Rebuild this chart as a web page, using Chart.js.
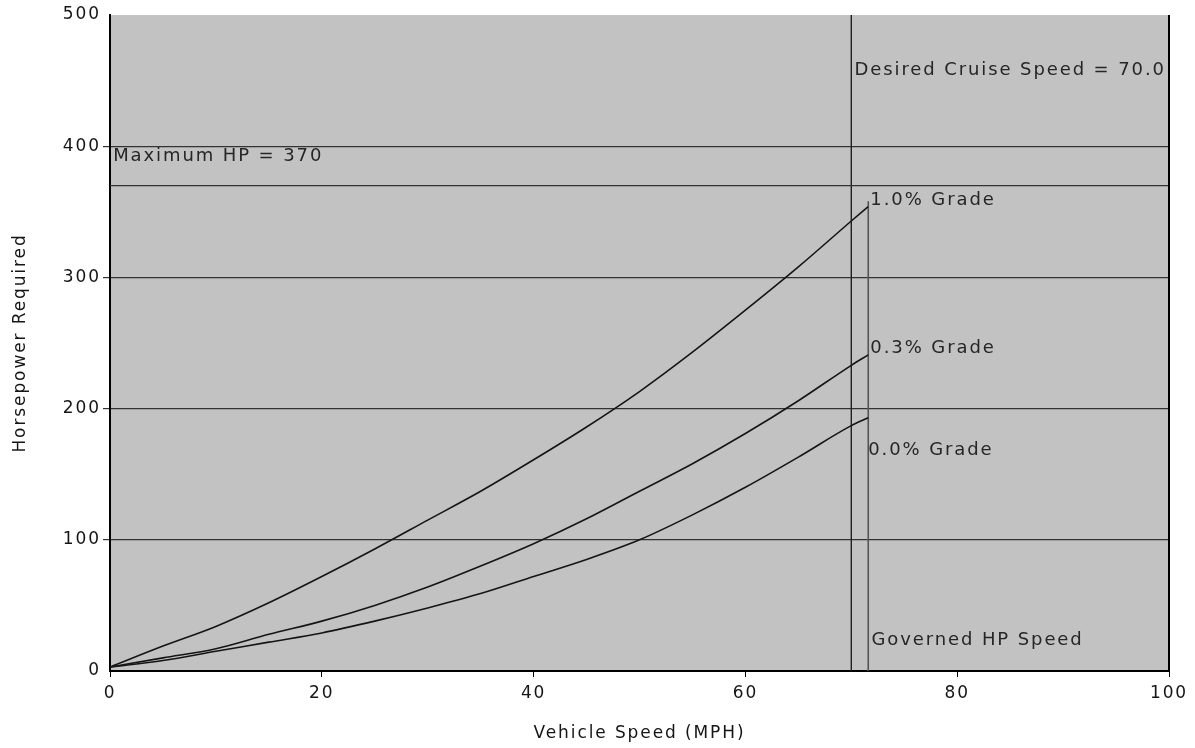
<!DOCTYPE html>
<html>
<head>
<meta charset="utf-8">
<script src="https://cdn.jsdelivr.net/npm/chart.js@4.4.1/dist/chart.umd.min.js"></script>
<style>
  html, body { margin: 0; padding: 0; background: #fff; }
  #wrap { width: 1195px; height: 748px; }
</style>
</head>
<body>
<div id="wrap"><canvas id="hp-chart" width="1195" height="748"></canvas></div>
<script>
// vehicle speed (MPH) sample points
const speeds = [0, 5, 10, 15, 20, 25, 30, 35, 40, 45, 50, 55, 60, 65, 70, 71.6];
// horsepower required per grade
const grade10 = [3, 19, 34, 52, 72, 93, 115, 137, 161, 186, 213, 243, 275, 308, 343, 354];
const grade03 = [3, 10, 17, 28, 38, 50, 64, 80, 97, 116, 137, 158, 181, 206, 233, 241];
const grade00 = [3, 8, 15, 22, 29, 38, 48, 59, 72, 85, 100, 119, 140, 163, 187, 193];

const maxHP = 370;
const cruiseSpeed = 70.0;
const governedSpeed = 71.6;
const governedTop = 358;

const yTicks = [0, 100, 200, 300, 400, 500];
const xTicks = [0, 20, 40, 60, 80, 100];

// text annotations: [label, x, y] in data units
const notes = [
  ["Desired Cruise Speed = 70.0", 70.3, 458],
  ["Maximum HP = 370", 0.3, 392],
  ["1.0% Grade", 71.8, 359],
  ["0.3% Grade", 71.8, 246],
  ["0.0% Grade", 71.6, 168],
  ["Governed HP Speed", 71.9, 23],
];

const FONT = "'DejaVu Sans', Verdana, sans-serif";
const INK = "#151515";
const SPACING = "1.9px";

function pts(ys) {
  return speeds.map((s, i) => ({ x: s, y: ys[i] }));
}

function curve(ys) {
  return {
    data: pts(ys),
    borderColor: INK,
    borderWidth: 1.6,
    pointRadius: 0,
    cubicInterpolationMode: "monotone",
    showLine: true,
  };
}

function refLine(data, color, width) {
  return { data, borderColor: color, borderWidth: width, pointRadius: 0, showLine: true, tension: 0 };
}

const plotBg = {
  id: "plotBg",
  beforeUpdate(chart) {
    chart.ctx.letterSpacing = SPACING;
  },
  beforeDraw(chart) {
    const { ctx, chartArea: a } = chart;
    ctx.letterSpacing = SPACING;
    ctx.save();
    ctx.fillStyle = "#c2c2c2";
    ctx.fillRect(a.left, a.top, a.right - a.left, a.bottom - a.top);
    ctx.restore();
  },
  afterDraw(chart) {
    const { ctx, chartArea: a, scales } = chart;
    ctx.save();
    // right frame edge
    ctx.strokeStyle = "#000";
    ctx.lineWidth = 2;
    ctx.beginPath();
    ctx.moveTo(a.right, a.top);
    ctx.lineTo(a.right, a.bottom + 1);
    ctx.stroke();
    // annotations
    ctx.font = "18px " + FONT;
    ctx.fillStyle = "#262626";
    ctx.textBaseline = "middle";
    ctx.textAlign = "left";
    for (const [label, x, y] of notes) {
      ctx.fillText(label, scales.x.getPixelForValue(x), scales.y.getPixelForValue(y));
    }
    ctx.restore();
  },
};

new Chart(document.getElementById("hp-chart"), {
  type: "scatter",
  data: {
    datasets: [
      curve(grade10),
      curve(grade03),
      curve(grade00),
      refLine([{ x: 0, y: maxHP }, { x: 100, y: maxHP }], "#333", 1.2),
      refLine([{ x: cruiseSpeed, y: 0 }, { x: cruiseSpeed, y: 500 }], "#222", 1.4),
      refLine([{ x: governedSpeed, y: 0 }, { x: governedSpeed, y: governedTop }], "#555", 1.6),
    ],
  },
  options: {
    responsive: false,
    animation: false,
    layout: { padding: { top: 15, right: 26, left: 0, bottom: 0 } },
    plugins: { legend: { display: false }, tooltip: { enabled: false } },
    scales: {
      x: {
        type: "linear",
        min: 0,
        max: 100,
        afterBuildTicks: (s) => { s.ticks = xTicks.map((v) => ({ value: v })); },
        afterFit: (s) => { s.height = 77; },
        grid: { drawOnChartArea: false, drawTicks: true, tickLength: 6, color: "#000", lineWidth: 1 },
        border: { color: "#000", width: 2 },
        ticks: { color: INK, font: { family: FONT, size: 17 }, padding: 6, maxRotation: 0 },
        title: { display: true, text: "Vehicle Speed (MPH)", color: INK, font: { family: FONT, size: 17 }, padding: { top: 4 } },
      },
      y: {
        type: "linear",
        min: 0,
        max: 500,
        afterBuildTicks: (s) => { s.ticks = yTicks.map((v) => ({ value: v })); },
        afterFit: (s) => { s.width = 110; },
        grid: {
          drawOnChartArea: true,
          tickLength: 7,
          color: (c) => (c.tick && (c.tick.value === 0 || c.tick.value === 500) ? "rgba(0,0,0,0)" : "#333"),
          lineWidth: 1.2,
        },
        border: { color: "#000", width: 2 },
        ticks: { color: INK, font: { family: FONT, size: 17 }, padding: 2 },
        title: { display: true, text: "Horsepower Required", color: INK, font: { family: FONT, size: 17 }, padding: { top: 10, bottom: 4 } },
      },
    },
  },
  plugins: [plotBg],
});
</script>
</body>
</html>
